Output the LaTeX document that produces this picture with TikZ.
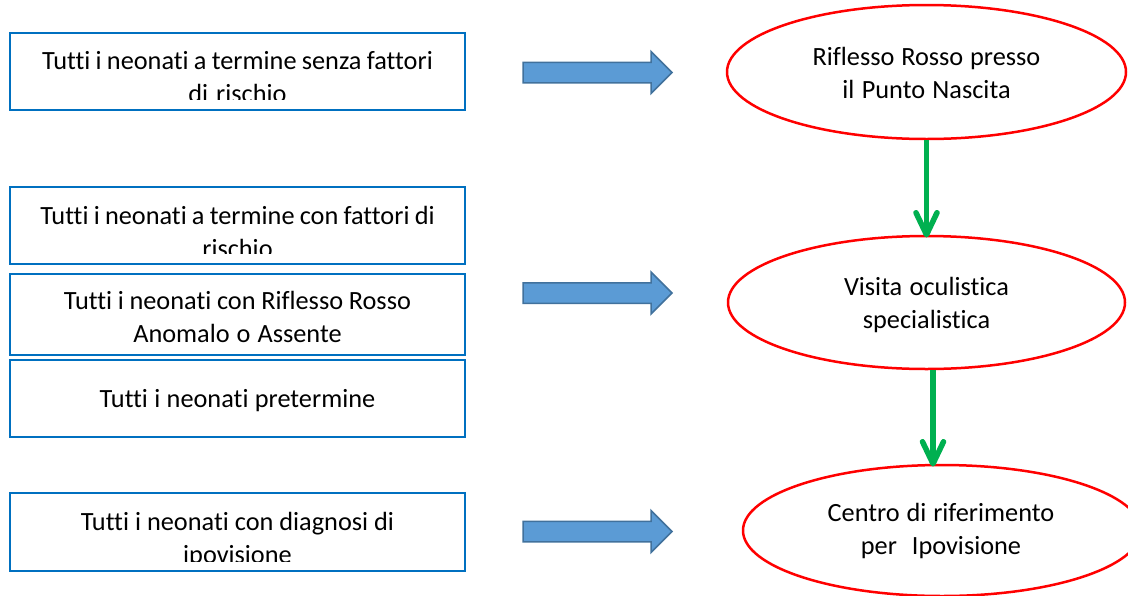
\documentclass[tikz,border=0pt]{standalone}
\usepackage{fontspec}
\setmainfont[Ligatures=NoCommon]{Carlito}
\usetikzlibrary{shapes.geometric}
\definecolor{boxblue}{HTML}{0070C0}
\definecolor{arrfill}{HTML}{5B9BD5}
\definecolor{arrdraw}{HTML}{41719C}
\definecolor{grn}{HTML}{00B050}
\definecolor{ellred}{HTML}{FF0000}
\newcommand\tightsp{\spaceskip=4.7pt plus 1pt minus 1pt\relax}
\tikzset{
  bx/.style={draw=boxblue, line width=2.5pt, rectangle, minimum width=455pt, inner sep=0pt},
  txt/.style={anchor=base, text width=450pt, align=center, inner sep=0pt, font=\fontsize{26.3}{33}\selectfont, execute at begin node=\tightsp},
  ell/.style={draw=ellred, line width=2.5pt, ellipse, inner sep=0pt},
  blockarrow/.style={fill=arrfill, draw=arrdraw, line width=1.5pt, line join=miter},
  barrow/.pic={\path[blockarrow] (0,-10.25) -- (128,-10.25) -- (128,-21) -- (149,0) -- (128,21) -- (128,10.25) -- (0,10.25) -- cycle;},
  gshaft/.style={draw=grn, line width=5.5pt},
  ghead/.style={draw=grn, line width=5.5pt, line cap=round, line join=round}
}
\begin{document}
\begin{tikzpicture}[x=1pt,y=-1pt]
\useasboundingbox (0,0) rectangle (1128,595);
% left boxes
\node[bx, minimum height=77pt] (b1) at (237.5,71.5) {};
\node[bx, minimum height=77pt] (b2) at (237.5,225.5) {};
\node[bx, minimum height=81pt] (b3) at (237.5,314.5) {};
\node[bx, minimum height=77pt] (b4) at (237.5,398.5) {};
\node[bx, minimum height=78pt] (b5) at (237.5,532) {};
% box texts
\begin{scope}
\clip (12,35) rectangle (464,99);
\node[txt] (t1) at (237.5,69) {Tutti i neonati a termine senza fattori\\di rischio};
\end{scope}
\begin{scope}
\clip (12,189) rectangle (464,253);
\node[txt] (t2) at (237.5,224) {Tutti i neonati a termine con fattori di\\rischio};
\end{scope}
\node[txt] (t3) at (237.5,309) {Tutti i neonati con Riflesso Rosso\\Anomalo o Assente};
\node[txt] (t4) at (237.5,407) {Tutti i neonati pretermine};
\begin{scope}
\clip (12,495) rectangle (464,561);
\node[txt] (t5) at (237.5,530) {Tutti i neonati con diagnosi di\\ipovisione};
\end{scope}
% block arrows
\pic at (523,72.5) {barrow};
\pic at (523,293) {barrow};
\pic at (523,531.5) {barrow};
% ellipses
\node[ell, minimum width=399pt, minimum height=134pt] (e1) at (926.5,72) {};
\node[ell, minimum width=397pt, minimum height=133pt] (e2) at (926.5,302.5) {};
\node[ell, minimum width=398pt, minimum height=131pt] (e3) at (942,530.5) {};
\node[txt] (et1) at (926.5,65) {Riflesso Rosso presso\\il Punto Nascita};
\node[txt] (et2) at (926.5,295) {Visita oculistica\\specialistica};
\node[txt] (et3) at (941,521.5) {Centro di riferimento\\per\ \ Ipovisione};
% green arrows
\draw[gshaft, shorten >=4pt] (e1.south) -- (e2.north);
\draw[ghead] ([shift={(-10.5,-22)}]e2.north) -- (e2.north) -- ([shift={(10.5,-22)}]e2.north);
\path (e2.south) ++(6.5,0) coordinate (g2s);
\coordinate (g2e) at (g2s |- e3.north);
\draw[gshaft, shorten >=4pt] (g2s) -- (g2e);
\draw[ghead] ([shift={(-10.5,-22)}]g2e) -- (g2e) -- ([shift={(10.5,-22)}]g2e);
\end{tikzpicture}
\end{document}
